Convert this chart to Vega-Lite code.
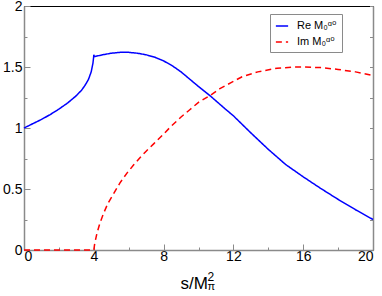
{
  "$schema": "https://vega.github.io/schema/vega-lite/v6.json",
  "width": 349,
  "height": 244,
  "autosize": {"type": "none"},
  "padding": {"left": 24, "top": 6, "right": 9, "bottom": 46},
  "background": "white",
  "config": {
    "view": {"stroke": "black", "strokeWidth": 1},
    "axis": {
      "grid": false,
      "domainColor": "#8a8a8a",
      "domainWidth": 1.5,
      "tickColor": "#8a8a8a",
      "tickWidth": 1,
      "labelFont": "Liberation Sans",
      "titleFont": "Liberation Sans",
      "labelColor": "black",
      "titleColor": "black",
      "labelFontSize": 14,
      "titleFontWeight": "normal"
    },
    "legend": {
      "labelFont": "Liberation Sans, DejaVu Sans",
      "labelFontSize": 11,
      "labelColor": "black"
    }
  },
  "data": {
    "values": [
      {"s": 0, "v": 1.0, "series": "Re M₀ᵅ⁰"},
      {"s": 0.5, "v": 1.035, "series": "Re M₀ᵅ⁰"},
      {"s": 1, "v": 1.07, "series": "Re M₀ᵅ⁰"},
      {"s": 1.5, "v": 1.11, "series": "Re M₀ᵅ⁰"},
      {"s": 2, "v": 1.155, "series": "Re M₀ᵅ⁰"},
      {"s": 2.5, "v": 1.205, "series": "Re M₀ᵅ⁰"},
      {"s": 3, "v": 1.265, "series": "Re M₀ᵅ⁰"},
      {"s": 3.3, "v": 1.31, "series": "Re M₀ᵅ⁰"},
      {"s": 3.5, "v": 1.35, "series": "Re M₀ᵅ⁰"},
      {"s": 3.7, "v": 1.40, "series": "Re M₀ᵅ⁰"},
      {"s": 3.85, "v": 1.46, "series": "Re M₀ᵅ⁰"},
      {"s": 3.95, "v": 1.53, "series": "Re M₀ᵅ⁰"},
      {"s": 3.99, "v": 1.58, "series": "Re M₀ᵅ⁰"},
      {"s": 4.0, "v": 1.60, "series": "Re M₀ᵅ⁰"},
      {"s": 4.03, "v": 1.585, "series": "Re M₀ᵅ⁰"},
      {"s": 4.5, "v": 1.60, "series": "Re M₀ᵅ⁰"},
      {"s": 5, "v": 1.613, "series": "Re M₀ᵅ⁰"},
      {"s": 5.5, "v": 1.62, "series": "Re M₀ᵅ⁰"},
      {"s": 6, "v": 1.62, "series": "Re M₀ᵅ⁰"},
      {"s": 6.5, "v": 1.613, "series": "Re M₀ᵅ⁰"},
      {"s": 7, "v": 1.60, "series": "Re M₀ᵅ⁰"},
      {"s": 7.5, "v": 1.58, "series": "Re M₀ᵅ⁰"},
      {"s": 8, "v": 1.55, "series": "Re M₀ᵅ⁰"},
      {"s": 8.5, "v": 1.51, "series": "Re M₀ᵅ⁰"},
      {"s": 9, "v": 1.46, "series": "Re M₀ᵅ⁰"},
      {"s": 9.5, "v": 1.40, "series": "Re M₀ᵅ⁰"},
      {"s": 10, "v": 1.34, "series": "Re M₀ᵅ⁰"},
      {"s": 10.7, "v": 1.26, "series": "Re M₀ᵅ⁰"},
      {"s": 11.5, "v": 1.16, "series": "Re M₀ᵅ⁰"},
      {"s": 12, "v": 1.10, "series": "Re M₀ᵅ⁰"},
      {"s": 13, "v": 0.96, "series": "Re M₀ᵅ⁰"},
      {"s": 14, "v": 0.825, "series": "Re M₀ᵅ⁰"},
      {"s": 15, "v": 0.70, "series": "Re M₀ᵅ⁰"},
      {"s": 16, "v": 0.60, "series": "Re M₀ᵅ⁰"},
      {"s": 17, "v": 0.505, "series": "Re M₀ᵅ⁰"},
      {"s": 18, "v": 0.415, "series": "Re M₀ᵅ⁰"},
      {"s": 19, "v": 0.33, "series": "Re M₀ᵅ⁰"},
      {"s": 20, "v": 0.25, "series": "Re M₀ᵅ⁰"},
      {"s": 0, "v": 0, "series": "Im M₀ᵅ⁰"},
      {"s": 4.0, "v": 0, "series": "Im M₀ᵅ⁰"},
      {"s": 4.05, "v": 0.05, "series": "Im M₀ᵅ⁰"},
      {"s": 4.18, "v": 0.137, "series": "Im M₀ᵅ⁰"},
      {"s": 4.35, "v": 0.22, "series": "Im M₀ᵅ⁰"},
      {"s": 4.56, "v": 0.30, "series": "Im M₀ᵅ⁰"},
      {"s": 4.8, "v": 0.38, "series": "Im M₀ᵅ⁰"},
      {"s": 5.13, "v": 0.46, "series": "Im M₀ᵅ⁰"},
      {"s": 5.5, "v": 0.55, "series": "Im M₀ᵅ⁰"},
      {"s": 5.9, "v": 0.63, "series": "Im M₀ᵅ⁰"},
      {"s": 6.3, "v": 0.70, "series": "Im M₀ᵅ⁰"},
      {"s": 6.67, "v": 0.76, "series": "Im M₀ᵅ⁰"},
      {"s": 7, "v": 0.81, "series": "Im M₀ᵅ⁰"},
      {"s": 7.43, "v": 0.87, "series": "Im M₀ᵅ⁰"},
      {"s": 8, "v": 0.95, "series": "Im M₀ᵅ⁰"},
      {"s": 8.4, "v": 1.01, "series": "Im M₀ᵅ⁰"},
      {"s": 9, "v": 1.09, "series": "Im M₀ᵅ⁰"},
      {"s": 9.5, "v": 1.15, "series": "Im M₀ᵅ⁰"},
      {"s": 10, "v": 1.21, "series": "Im M₀ᵅ⁰"},
      {"s": 10.7, "v": 1.27, "series": "Im M₀ᵅ⁰"},
      {"s": 11.2, "v": 1.32, "series": "Im M₀ᵅ⁰"},
      {"s": 11.84, "v": 1.37, "series": "Im M₀ᵅ⁰"},
      {"s": 12.5, "v": 1.42, "series": "Im M₀ᵅ⁰"},
      {"s": 13.4, "v": 1.46, "series": "Im M₀ᵅ⁰"},
      {"s": 14.5, "v": 1.49, "series": "Im M₀ᵅ⁰"},
      {"s": 15.5, "v": 1.50, "series": "Im M₀ᵅ⁰"},
      {"s": 16, "v": 1.50, "series": "Im M₀ᵅ⁰"},
      {"s": 17, "v": 1.495, "series": "Im M₀ᵅ⁰"},
      {"s": 18, "v": 1.48, "series": "Im M₀ᵅ⁰"},
      {"s": 19, "v": 1.46, "series": "Im M₀ᵅ⁰"},
      {"s": 20, "v": 1.43, "series": "Im M₀ᵅ⁰"}
    ]
  },
  "layer": [
    {
      "mark": {"type": "line", "opacity": 0},
      "encoding": {
        "x": {"field": "s", "type": "quantitative",
          "scale": {"domain": [0, 20], "nice": false, "zero": false},
          "axis": {"orient": "bottom", "values": [2, 6, 10, 14, 18], "tickSize": -3, "labels": false, "domain": false,
            "title": "2", "titleFontSize": 12, "titleAlign": "left", "titleBaseline": "alphabetic", "titleX": 183, "titleY": 30}},
        "y": {"field": "v", "type": "quantitative",
          "scale": {"domain": [0, 2], "nice": false, "zero": false},
          "axis": {"orient": "left", "values": [0.25, 0.75, 1.25, 1.75], "tickSize": -3, "labels": false, "domain": false, "title": null}},
        "detail": {"field": "series"}
      }
    },
    {
      "mark": {"type": "line", "opacity": 0},
      "encoding": {
        "x": {"field": "s", "type": "quantitative",
          "scale": {"domain": [0, 20], "nice": false, "zero": false},
          "axis": {"orient": "bottom", "ticks": false, "labels": false, "domain": false,
            "title": "π", "titleFontSize": 11, "titleAlign": "left", "titleBaseline": "alphabetic", "titleX": 183, "titleY": 39}},
        "y": {"field": "v", "type": "quantitative",
          "scale": {"domain": [0, 2], "nice": false, "zero": false},
          "axis": {"orient": "right", "values": [0, 0.25, 0.5, 0.75, 1, 1.25, 1.5, 1.75, 2], "tickSize": -3.5, "labels": false, "title": null}},
        "detail": {"field": "series"}
      }
    },
    {
      "mark": {"type": "line", "strokeWidth": 1.5},
      "encoding": {
        "x": {"field": "s", "type": "quantitative",
          "scale": {"domain": [0, 20], "nice": false, "zero": false},
          "axis": {"orient": "bottom", "values": [0, 4, 8, 12, 16, 20], "tickSize": -6, "labelPadding": 5, "format": "~g",
            "title": "s/M", "titleFontSize": 17, "titleAlign": "left", "titleBaseline": "alphabetic", "titleX": 156, "titleY": 38}},
        "y": {"field": "v", "type": "quantitative",
          "scale": {"domain": [0, 2], "nice": false, "zero": false},
          "axis": {"orient": "left", "values": [0, 0.5, 1, 1.5, 2], "tickSize": -6, "labelPadding": 8, "format": "~g", "title": null}},
        "color": {"field": "series", "type": "nominal",
          "scale": {"domain": ["Re M₀ᵅ⁰", "Im M₀ᵅ⁰"], "range": ["#0000ff", "#ff0000"]},
          "legend": {"title": null, "orient": "none", "legendX": 246, "legendY": 8, "symbolType": "stroke", "symbolSize": 150, "symbolStrokeWidth": 1.5,
            "strokeColor": "#8a8a8a", "fillColor": "white", "padding": 5, "rowPadding": 4, "labelOffset": 8}},
        "strokeDash": {"field": "series", "type": "nominal",
          "scale": {"domain": ["Re M₀ᵅ⁰", "Im M₀ᵅ⁰"], "range": [[1, 0], [6, 4]]},
          "legend": {"title": null}}
      }
    }
  ],
  "resolve": {"axis": {"x": "independent", "y": "independent"}}
}
